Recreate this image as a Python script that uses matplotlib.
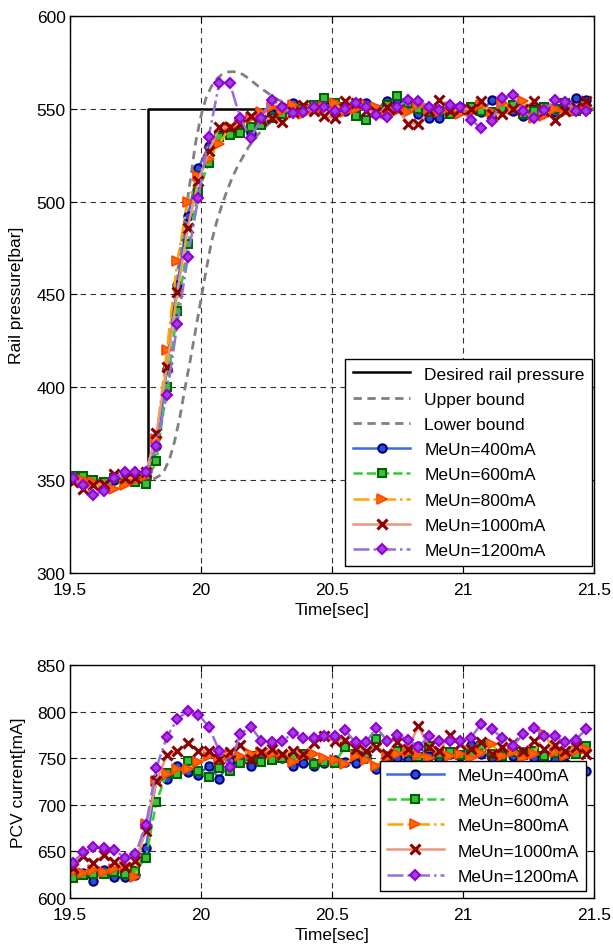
import numpy as np
import matplotlib
matplotlib.use("Agg")
from matplotlib import pyplot as plt

plt.rcParams['font.family'] = ['Liberation Sans', 'DejaVu Sans']
plt.rcParams['font.size'] = 12.5

# sample times (every 0.04 s)
t = np.round(19.51 + 0.04 * np.arange(50), 2)

# reference / bounds
desired_t = [19.5, 19.8, 19.8, 21.5]
desired_p = [350, 350, 550, 550]

bound_t = [19.5, 19.8, 19.82, 19.84, 19.86, 19.88, 19.90, 19.92, 19.94, 19.96, 19.98,
           20.00, 20.02, 20.04, 20.06, 20.08, 20.10, 20.12, 20.14, 20.16, 20.18, 20.20,
           20.22, 20.24, 20.26, 20.28, 20.30, 20.34, 20.40, 20.50, 21.5]
upper_p = [350, 350, 358, 375, 400, 425, 450, 472, 492, 512, 532,
           546, 556, 562, 566, 568.5, 569.8, 570, 569.8, 568.5, 566.5, 564.3,
           562, 560, 558, 556, 554.5, 552, 550.5, 550, 550]
lower_p = [350, 350, 350.5, 352, 355, 361, 371, 384, 400, 415, 431,
           447, 463, 478, 489, 498, 506, 513, 519, 524, 529, 533,
           536.5, 539.5, 542, 544.5, 546.5, 549, 550, 550, 550]

labels = ['MeUn=400mA', 'MeUn=600mA', 'MeUn=800mA', 'MeUn=1000mA', 'MeUn=1200mA']

# rail pressure [bar]
p_400 = [351, 350, 349, 348, 350, 351, 352, 351, 368, 410, 455, 492, 518, 530, 536, 538, 539,
         537, 542, 547, 551, 553, 549, 551, 552, 550, 549, 551, 553, 550, 554, 555, 551, 547,
         545, 545, 549, 551, 550, 548, 555, 552, 549, 546, 550, 551, 548, 552, 556, 555]
p_600 = [352, 352, 350, 349, 351, 350, 349, 348, 360, 400, 441, 477, 505, 521, 535, 536, 537,
         540, 541, 545, 547, 548, 550, 552, 556, 553, 551, 546, 544, 549, 552, 557, 553, 550,
         548, 549, 547, 550, 551, 549, 548, 550, 552, 547, 549, 551, 550, 553, 549, 550]
p_800 = [349, 350, 349, 347, 345, 347, 350, 352, 372, 420, 468, 500, 514, 523, 531, 540, 543,
         545, 548, 551, 549, 552, 547, 550, 551, 553, 548, 550, 552, 551, 547, 549, 548, 552,
         550, 548, 551, 547, 549, 552, 548, 553, 550, 554, 545, 546, 550, 548, 549, 551]
p_1000 = [349, 345, 347, 348, 353, 351, 351, 354, 375, 411, 451, 486, 511, 527, 540, 540, 542,
          546, 544, 545, 543, 548, 552, 549, 546, 545, 554, 553, 549, 548, 551, 550, 542, 542,
          549, 555, 549, 550, 550, 554, 547, 547, 550, 550, 554, 549, 544, 549, 551, 554]
p_1200 = [351, 347, 342, 344, 351, 354, 354, 354, 368, 396, 434, 470, 502, 535, 564, 564, 545,
          534, 545, 555, 551, 547.5, 548, 551, 551, 548.6, 549.8, 552.9, 551.1, 546.8, 545.4,
          551.1, 554.8, 554.3, 551.1, 549.1, 552.2, 551.1, 544.1, 539.6, 543.5, 555.8, 557.4,
          548.6, 544.8, 549.1, 554.8, 553.4, 548.6, 548.6]

# PCV current [mA]
i_400 = [628, 627, 618, 630, 622, 622, 624, 653, 728, 728, 742, 735, 732, 742, 728, 747, 748,
         742, 753, 750, 750, 742, 745, 742, 745, 748, 746, 745, 750, 738, 745, 750, 748, 763,
         752, 750, 755, 752, 764, 755, 750, 757, 752, 757, 750, 745, 748, 745, 740, 736]
i_600 = [621, 624, 626, 625, 628, 625, 629, 643, 703, 734, 733, 747, 736, 730, 740, 736, 745,
         752, 746, 748, 750, 752, 755, 744, 746, 745, 762, 755, 754, 771, 752, 758, 757, 751,
         763, 754, 757, 753, 756, 763, 755, 752, 757, 753, 758, 752, 756, 754, 754, 763]
i_800 = [628, 627, 630, 628, 631, 634, 622, 679, 725, 733, 738, 738, 746, 752, 748, 753, 752,
         754, 757, 754, 753, 746, 752, 755, 750, 748, 744, 752, 748, 742, 750, 755, 757, 753,
         750, 757, 752, 754, 750, 756, 765, 752, 757, 750, 755, 776, 757, 752, 758, 760]
i_1000 = [632, 645, 637, 646, 638, 633, 639, 672, 726, 753, 758, 766, 758, 758, 749, 757, 764,
          749, 757, 760, 755, 758, 754, 766, 774, 768, 770, 760, 758, 762, 755, 767, 760, 785,
          762, 758, 775, 765, 760, 767, 755, 762, 766, 758, 768, 760, 764, 758, 762, 755]
i_1200 = [637, 649, 654, 653, 651, 643, 647, 678, 740, 773, 792, 801, 797, 784, 758, 741, 776,
          784, 769, 767, 768, 777, 772, 772, 774, 774, 780, 767, 767, 783, 769, 775, 770, 762,
          774, 769, 768, 768, 772, 787, 781, 772, 763, 776, 783, 774, 774, 767, 770, 781]

styles = [
    dict(color='#4169E1', ls='-', marker='o', mfc='#2a4fd0', mec='#000080', ms=6, mew=1.5),
    dict(color='#32CD32', ls='--', marker='s', mfc='#3cc03c', mec='#006400', ms=6, mew=1.5),
    dict(color='#FFA500', ls='-.', marker='>', mfc='#FF6A00', mec='#FF4500', ms=6.5, mew=1.2),
    dict(color='#E9967A', ls='-', marker='x', mfc='none', mec='#8B0000', ms=7.5, mew=2.2),
    dict(color='#9370DB', ls='-.', marker='D', mfc='#a040e0', mec='#9400D3', ms=5.5, mew=1.5),
]


def style_axes(ax, ylim, yticks):
    ax.set_xlim(19.5, 21.5)
    ax.set_ylim(*ylim)
    ax.set_xticks([19.5, 20, 20.5, 21, 21.5])
    ax.set_xticklabels(['19.5', '20', '20.5', '21', '21.5'])
    ax.set_yticks(yticks)
    ax.grid(True, color='k', linestyle=(0, (5, 4)), linewidth=0.8, alpha=0.8)
    ax.tick_params(direction='in', top=True, right=True, length=5, width=0.8,
                   labelsize=12.5)
    ax.tick_params(axis='x', pad=7)
    ax.tick_params(axis='y', pad=3)
    for s in ax.spines.values():
        s.set_linewidth(1.0)
    ax.set_xlabel('Time[sec]', labelpad=3)


fig = plt.figure(figsize=(6.13, 9.45), dpi=100)

ax1 = fig.add_axes([0.114, 0.393, 0.855, 0.589])
ax1.plot(desired_t, desired_p, color='k', lw=1.8, label='Desired rail pressure')
ax1.plot(bound_t, upper_p, color='#808080', lw=2, ls=(0, (3, 2)), label='Upper bound')
ax1.plot(bound_t, lower_p, color='#808080', lw=2, ls=(0, (3, 2)), label='Lower bound')
for vals, lab, st in zip([p_400, p_600, p_800, p_1000, p_1200], labels, styles):
    ax1.plot(t, vals, lw=1.8, label=lab, **st)
style_axes(ax1, (300, 600), np.arange(300, 601, 50))
ax1.set_ylabel('Rail pressure[bar]', labelpad=9)
leg1 = ax1.legend(loc='lower right', bbox_to_anchor=(0.997, 0.012), borderaxespad=0,
                  fancybox=False, edgecolor='k', framealpha=1, handlelength=3.3,
                  labelspacing=0.58, borderpad=0.45, fontsize=12.5)
leg1.get_frame().set_linewidth(1.0)

ax2 = fig.add_axes([0.114, 0.049, 0.855, 0.246])
for vals, lab, st in zip([i_400, i_600, i_800, i_1000, i_1200], labels, styles):
    ax2.plot(t, vals, lw=1.8, label=lab, **st)
style_axes(ax2, (600, 850), np.arange(600, 851, 50))
ax2.set_ylabel('PCV current[mA]', labelpad=8)
leg2 = ax2.legend(loc='lower right', bbox_to_anchor=(0.985, 0.03), borderaxespad=0,
                  fancybox=False, edgecolor='k', framealpha=1, handlelength=3.3,
                  labelspacing=0.58, borderpad=0.4, fontsize=12.5)
leg2.get_frame().set_linewidth(1.0)

fig.savefig('out.png', dpi=100)
